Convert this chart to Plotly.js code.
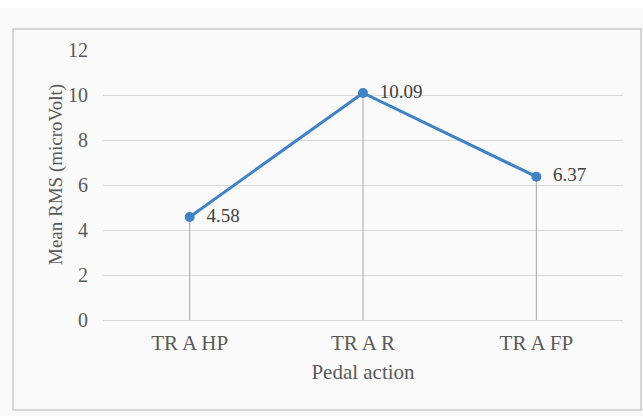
<!DOCTYPE html>
<html>
<head>
<meta charset="utf-8">
<script src="https://cdn.plot.ly/plotly-3.0.1.min.js"></script>
<style>
html,body{margin:0;padding:0;background:#f9f9f9;}
#chart{width:643px;height:416px;}
</style>
</head>
<body>
<div id="chart"></div>
<script>
var categories = ["TR A HP", "TR A R", "TR A FP"];
var meanRms = [4.58, 10.09, 6.37];
var yTicks = [0, 2, 4, 6, 8, 10, 12];
var xTitle = "Pedal action";
var yTitle = "Mean RMS (microVolt)";

var font = "Liberation Serif, Times New Roman, serif";
var zeros = meanRms.map(function(){return 0;});

var trace = {
  x: categories,
  y: meanRms,
  type: "scatter",
  mode: "lines+markers+text",
  text: meanRms.map(function(v){return "\u00a0\u00a0" + v.toFixed(2);}),
  textposition: "middle right",
  textfont: {family: font, size: 19, color: "#404040"},
  line: {color: "#4181c5", width: 3},
  marker: {color: "#4181c5", size: 10},
  error_y: {type: "data", symmetric: false, array: zeros, arrayminus: meanRms,
            color: "#a6a6a6", thickness: 1, width: 0},
  cliponaxis: false,
  hoverinfo: "x+y"
};

var layout = {
  width: 643, height: 416,
  margin: {l: 103, r: 20, t: 50, b: 96},
  paper_bgcolor: "#f9f9f9",
  plot_bgcolor: "rgba(0,0,0,0)",
  showlegend: false,
  font: {family: font, size: 20, color: "#595959"},
  xaxis: {
    type: "category",
    range: [-0.5, 2.5],
    showgrid: false,
    showline: true, linecolor: "#d9d9d9", linewidth: 1,
    ticks: "",
    tickfont: {family: font, size: 21, color: "#595959"},
    ticklabelstandoff: 4,
    title: {text: xTitle, font: {family: font, size: 21, color: "#595959"}, standoff: 10}
  },
  yaxis: {
    range: [0, 12],
    tickvals: yTicks,
    showgrid: true, gridcolor: "#d9d9d9", gridwidth: 1,
    zeroline: false,
    showline: false,
    ticks: "",
    tickfont: {family: font, size: 20, color: "#595959"},
    ticklabelstandoff: 14
  },
  annotations: [
    {text: yTitle, xref: "paper", yref: "paper", x: (56-103)/520, y: (320-175)/270,
     xanchor: "center", yanchor: "middle", textangle: -90, showarrow: false,
     font: {family: font, size: 19, color: "#595959"}}
  ],
  shapes: [
    {type: "rect", xref: "paper", yref: "paper", layer: "below",
     x0: (13-103)/520, x1: (641-103)/520, y0: (320-410)/270, y1: (320-29)/270,
     line: {color: "#c9c9c9", width: 1.5}, fillcolor: "#fafafa"},
    {type: "rect", xref: "paper", yref: "paper", layer: "below",
     x0: -0.3, x1: 1.1, y0: (320-8)/270, y1: 330/270,
     line: {width: 0}, fillcolor: "#ffffff"}
  ]
};

Plotly.newPlot("chart", [trace], layout, {displayModeBar: false, staticPlot: true});
</script>
</body>
</html>
